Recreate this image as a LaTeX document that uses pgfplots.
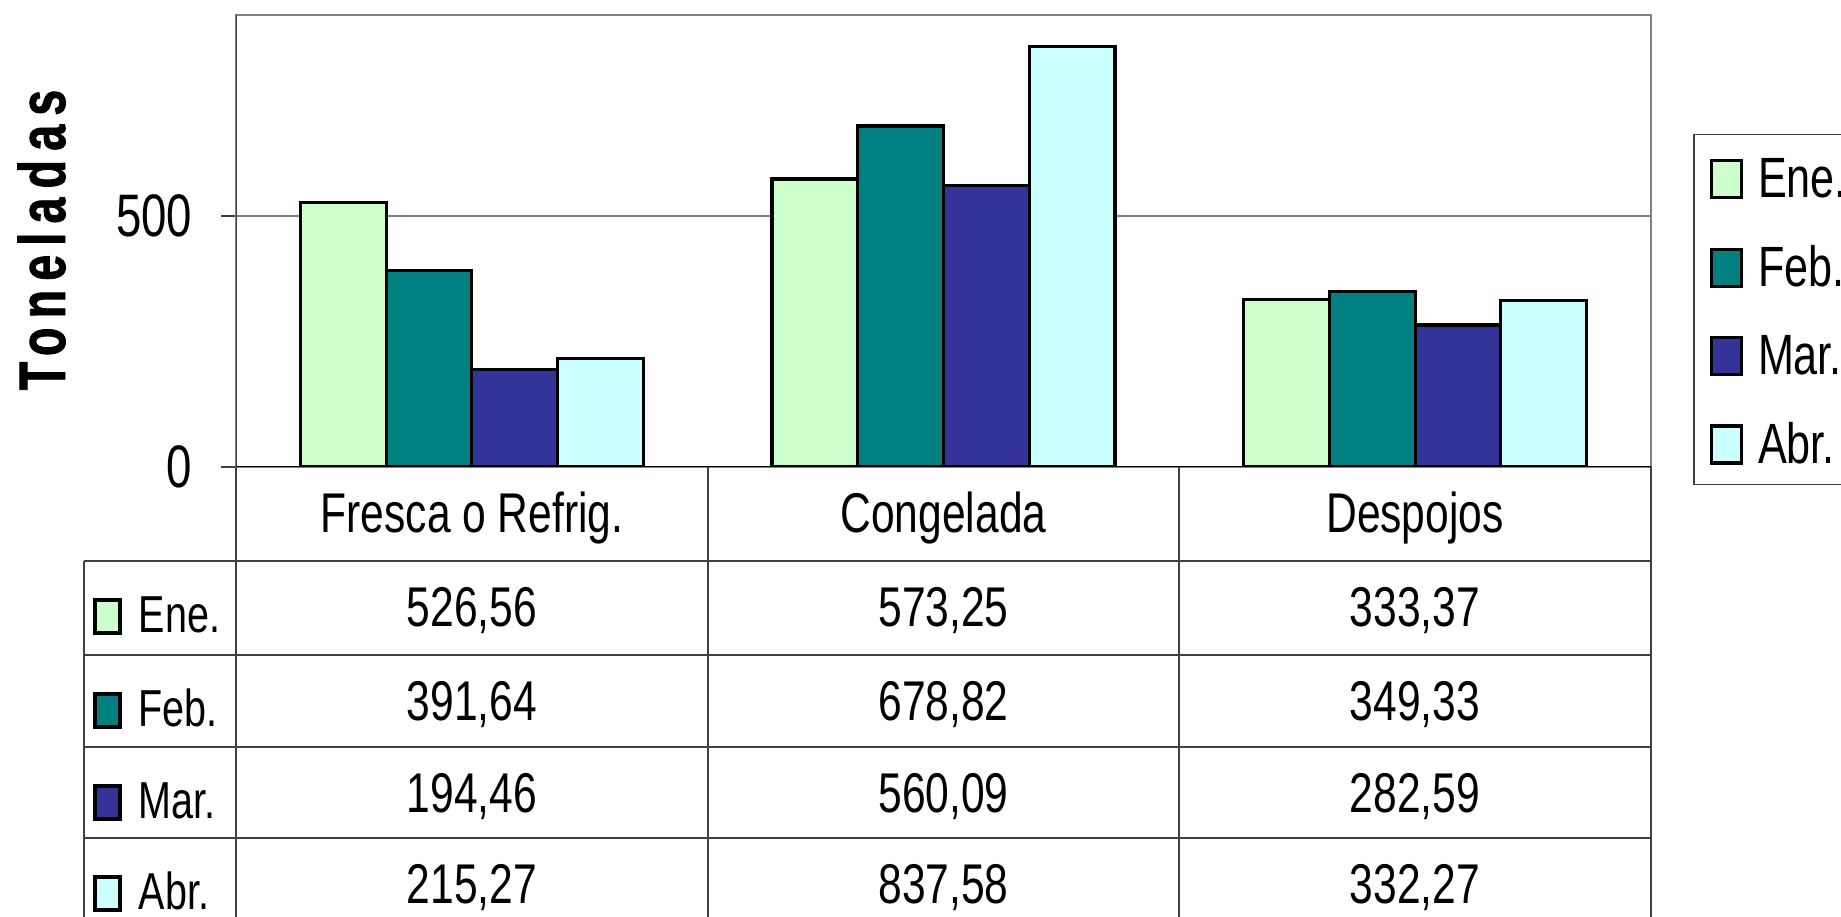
\documentclass[border=0pt]{standalone}
\usepackage{pgfplots}
\pgfplotsset{compat=1.18}
\usepackage{pgfplotstable}
\usepackage{fontspec}
\setmainfont{Liberation Sans}[FakeStretch=0.76]
\newfontfamily\ylabfont{Liberation Sans}[FakeStretch=0.71,LetterSpace=14,FakeBold=1.2]
\definecolor{cEne}{HTML}{CCFFCC}
\definecolor{cFeb}{HTML}{008080}
\definecolor{cMar}{HTML}{333399}
\definecolor{cAbr}{HTML}{CCFFFF}
\definecolor{framegray}{HTML}{808080}
\definecolor{tline}{HTML}{404040}
\pgfkeys{/pgf/number format/assume math mode=true}

\pgfplotstableread{
idx ene feb mar abr
0 526.56 391.64 194.46 215.27
1 573.25 678.82 560.09 837.58
2 333.37 349.33 282.59 332.27
}\datatable

\begin{document}
\begin{tikzpicture}[x=0.25pt,y=0.25pt]
\useasboundingbox (0,0) rectangle (1841,917);
\begin{axis}[
  at={(59pt,112.5pt)}, anchor=south west,
  scale only axis, width=353.75pt, height=113pt,
  xmin=-0.5, xmax=2.5, ymin=0, ymax=900,
  xtick=\empty, ytick={0,500}, ytick pos=left,
  ymajorgrids, grid style={framegray, line width=0.35pt},
  axis line style={framegray, line width=0.6pt},
  tick align=outside, major tick length=3.75pt,
  ytick style={tline, line width=0.35pt},
  yticklabel style={font=\fontsize{15}{15}\selectfont, anchor=east, inner sep=0pt, xshift=-7pt},
  /pgf/number format/assume math mode=true,
  ybar=0pt, bar width=0.1817,
  legend image code/.code={\draw[#1, line width=0.8pt] (0pt,-5.4pt) rectangle (7.5pt,3.85pt);},
  legend cell align=left,
  legend style={at={(1.0297,0.737)}, anchor=north west, draw=tline, line width=0.4pt,
    font=\fontsize{14.2}{14.2}\selectfont, inner xsep=4pt, inner ysep=5pt,
    row sep=10.9pt, nodes={inner sep=0pt, text height=10.8pt, text depth=0pt},
    /tikz/every odd column/.append style={column sep=3.75pt}},
]
\addplot[fill=cEne, draw=black, line width=0.8pt] table[x=idx, y=ene]{\datatable};
\addplot[fill=cFeb, draw=black, line width=0.8pt] table[x=idx, y=feb]{\datatable};
\addplot[fill=cMar, draw=black, line width=0.8pt] table[x=idx, y=mar]{\datatable};
\addplot[fill=cAbr, draw=black, line width=0.8pt] table[x=idx, y=abr]{\datatable};
\legend{Ene.,Feb.,Mar.,Abr.}
\draw[tline, line width=0.4pt] (rel axis cs:0,0) -- (rel axis cs:0,1);
\draw[black, line width=0.6pt] (rel axis cs:0,0) -- (rel axis cs:1,0);
\end{axis}
% table grid
\draw[tline, line width=0.35pt]
  (236,450) -- (236,-30)
  (708,450) -- (708,-30)
  (1179,450) -- (1179,-30)
  (1651,450) -- (1651,-30)
  (84,356) -- (84,-30)
  (84,356) -- (1651,356)
  (84,262) -- (1651,262)
  (84,170) -- (1651,170)
  (84,79) -- (1651,79);
% category labels
\foreach \lab/\cx in {Fresca o Refrig./472, Congelada/943.5, Despojos/1415}{
  \node[anchor=base, inner sep=0pt, font=\fontsize{14}{14}\selectfont] at (\cx,384) {\lab};
}
% row keys and values
\foreach \col/\T/\nm/\cc in {ene/356/Ene./cEne, feb/262/Feb./cFeb, mar/170/Mar./cMar, abr/79/Abr./cAbr}{
  \draw[fill=\cc, draw=black, line width=0.8pt] (95,\T-72) rectangle (120,\T-39);
  \node[anchor=base west, inner sep=0pt, font=\fontsize{13}{13}\selectfont] at (138,\T-72) {\nm};
  \foreach \i/\cx in {0/472, 1/943.5, 2/1415}{
    \pgfplotstablegetelem{\i}{\col}\of\datatable
    \node[anchor=base, inner sep=0pt, font=\fontsize{14}{14}\selectfont] at (\cx,\T-66)
      {\pgfmathprintnumber[fixed, fixed zerofill, precision=2, use comma]{\pgfplotsretval}};
  }
}
% y label
\node[rotate=90, anchor=base, inner sep=0pt, font=\ylabfont\fontsize{16.4}{16.4}\selectfont\bfseries] at (65,677) {Toneladas};
\end{tikzpicture}
\end{document}
